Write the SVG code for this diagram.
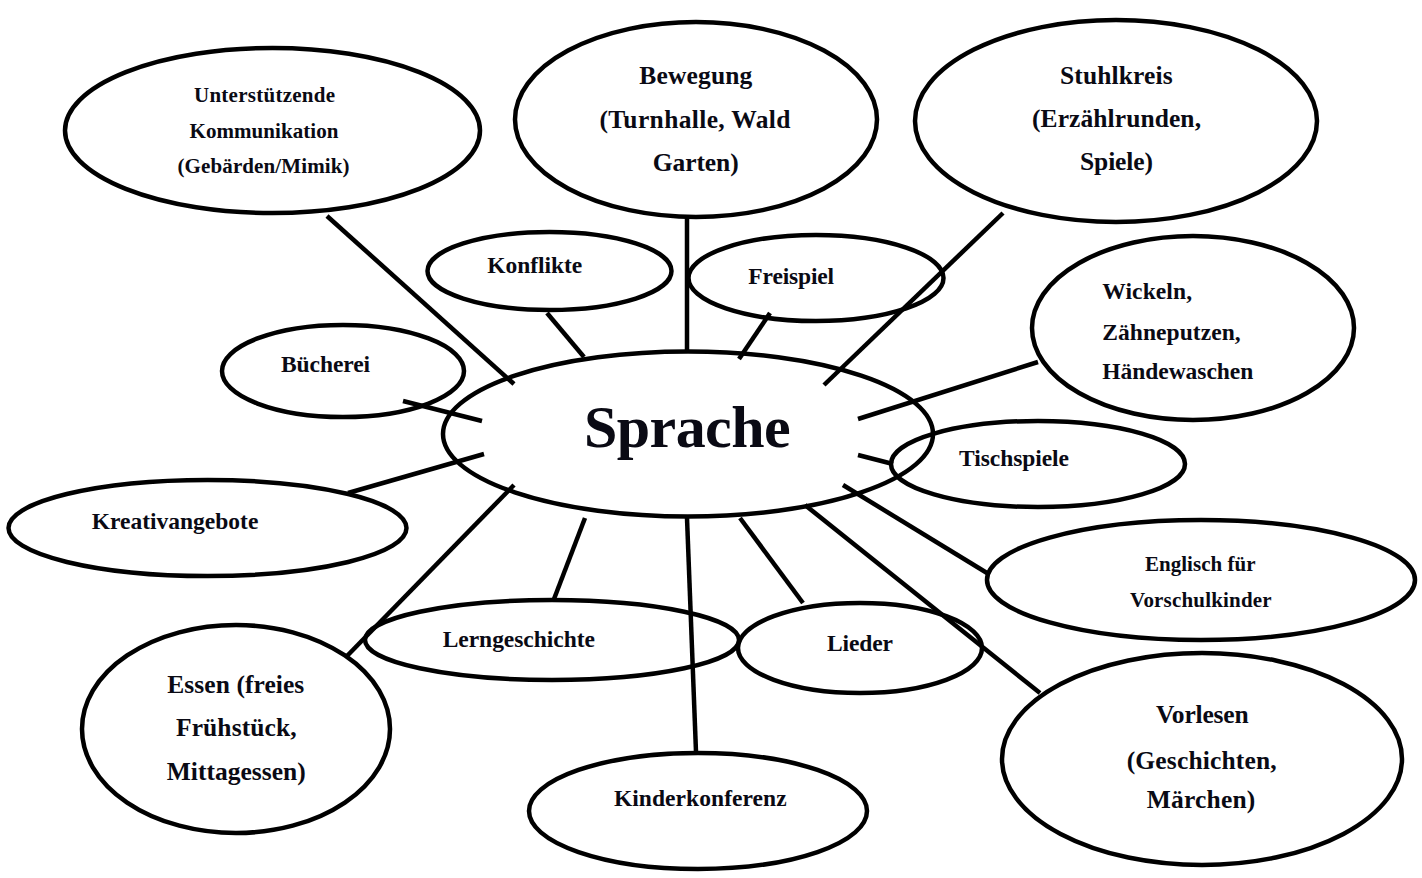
<svg xmlns="http://www.w3.org/2000/svg" width="1422" height="878" viewBox="0 0 1422 878">
<style>
  .bg{fill:#ffffff}
  .node ellipse{fill:none;stroke:#000;stroke-width:4.5}
  .node text{font-family:"Liberation Serif","Times New Roman",serif;font-weight:bold;fill:#0a0a14;text-anchor:middle}
  .t21{font-size:21px}
  .t23{font-size:23.5px}
  .t25{font-size:25.5px}
  .big{font-size:60px}
  #connectors line{stroke:#000;stroke-width:4.5;stroke-linecap:butt}
</style>
<rect class="bg" x="0" y="0" width="1422" height="878"/>
<g id="connectors">
  <line x1="327" y1="216" x2="514" y2="384"/>
  <line x1="547" y1="313" x2="584" y2="357"/>
  <line x1="687" y1="217" x2="687" y2="352"/>
  <line x1="770" y1="313" x2="739" y2="359"/>
  <line x1="1003" y1="213" x2="824" y2="385"/>
  <line x1="1038" y1="362" x2="858" y2="419"/>
  <line x1="858" y1="455" x2="893" y2="464"/>
  <line x1="843" y1="485" x2="987" y2="573"/>
  <line x1="805" y1="505" x2="1040" y2="693"/>
  <line x1="740" y1="518" x2="803" y2="603"/>
  <line x1="687" y1="518" x2="696" y2="752"/>
  <line x1="585" y1="518" x2="554" y2="599"/>
  <line x1="514" y1="485" x2="347" y2="656"/>
  <line x1="484" y1="454" x2="348" y2="493"/>
  <line x1="403" y1="401" x2="482" y2="421"/>
</g>
<g id="n-sprache" class="node">
  <ellipse cx="688" cy="434" rx="245" ry="82.5"/>
  <text class="big" x="687.3" y="446.7" textLength="206.7">Sprache</text>
</g>
<g id="n-unterstuetzende" class="node">
  <ellipse cx="272.5" cy="130.5" rx="207.5" ry="82.5"/>
  <text class="t21" x="264.5" y="102" textLength="141">Unterstützende</text>
  <text class="t21" x="264" y="138" textLength="149">Kommunikation</text>
  <text class="t21" x="263.5" y="173" textLength="172">(Gebärden/Mimik)</text>
</g>
<g id="n-bewegung" class="node">
  <ellipse cx="696" cy="119.5" rx="181" ry="97.5"/>
  <text class="t25" x="695.8" y="83.5" textLength="113">Bewegung</text>
  <text class="t25" x="695" y="127.5" textLength="191">(Turnhalle, Wald</text>
  <text class="t25" x="695.7" y="171" textLength="86">Garten)</text>
</g>
<g id="n-stuhlkreis" class="node">
  <ellipse cx="1116" cy="121" rx="201" ry="101"/>
  <text class="t25" x="1116.3" y="84" textLength="112.7">Stuhlkreis</text>
  <text class="t25" x="1116.5" y="127.3" textLength="169">(Erzählrunden,</text>
  <text class="t25" x="1116.5" y="170" textLength="73">Spiele)</text>
</g>
<g id="n-konflikte" class="node">
  <ellipse cx="549.5" cy="271" rx="122" ry="39"/>
  <text class="t23" x="534.8" y="273.3" textLength="95">Konflikte</text>
</g>
<g id="n-freispiel" class="node">
  <ellipse cx="816" cy="278" rx="127.5" ry="43"/>
  <text class="t23" x="791.2" y="284" textLength="85.7">Freispiel</text>
</g>
<g id="n-wickeln" class="node">
  <ellipse cx="1193" cy="328" rx="161" ry="92"/>
  <text class="t23" x="1102.3" y="299.3" textLength="89.7" style="text-anchor:start">Wickeln,</text>
  <text class="t23" x="1102.3" y="340" textLength="138.4" style="text-anchor:start">Zähneputzen,</text>
  <text class="t23" x="1102.3" y="379.3" textLength="151" style="text-anchor:start">Händewaschen</text>
</g>
<g id="n-buecherei" class="node">
  <ellipse cx="343" cy="371" rx="121" ry="46"/>
  <text class="t23" x="325.5" y="371.7" textLength="89">Bücherei</text>
</g>
<g id="n-kreativangebote" class="node">
  <ellipse cx="207.5" cy="528" rx="199" ry="48"/>
  <text class="t23" x="175" y="529" textLength="166.7">Kreativangebote</text>
</g>
<g id="n-tischspiele" class="node">
  <ellipse cx="1038" cy="464" rx="147" ry="43"/>
  <text class="t23" x="1014" y="465.7" textLength="110">Tischspiele</text>
</g>
<g id="n-englisch" class="node">
  <ellipse cx="1201" cy="580" rx="214" ry="60"/>
  <text class="t21" x="1200.3" y="570.7" textLength="110.7">Englisch für</text>
  <text class="t21" x="1200.8" y="607.3" textLength="141.7">Vorschulkinder</text>
</g>
<g id="n-vorlesen" class="node">
  <ellipse cx="1202" cy="759" rx="200" ry="106"/>
  <text class="t25" x="1202.3" y="722.7" textLength="92.7">Vorlesen</text>
  <text class="t25" x="1201.7" y="769" textLength="150">(Geschichten,</text>
  <text class="t25" x="1201" y="808.3" textLength="108.7">Märchen)</text>
</g>
<g id="n-lieder" class="node">
  <ellipse cx="860" cy="648" rx="122" ry="45"/>
  <text class="t23" x="860" y="650.7" textLength="66">Lieder</text>
</g>
<g id="n-lerngeschichte" class="node">
  <ellipse cx="552" cy="640" rx="187" ry="40"/>
  <text class="t23" x="518.8" y="646.7" textLength="152.3">Lerngeschichte</text>
</g>
<g id="n-kinderkonferenz" class="node">
  <ellipse cx="698" cy="811" rx="169" ry="58"/>
  <text class="t23" x="700.3" y="806" textLength="172.7">Kinderkonferenz</text>
</g>
<g id="n-essen" class="node">
  <ellipse cx="236" cy="729" rx="154" ry="104"/>
  <text class="t25" x="235.8" y="692.7" textLength="137">Essen (freies</text>
  <text class="t25" x="236.3" y="736" textLength="120.7">Frühstück,</text>
  <text class="t25" x="236.2" y="780" textLength="139">Mittagessen)</text>
</g>
</svg>
